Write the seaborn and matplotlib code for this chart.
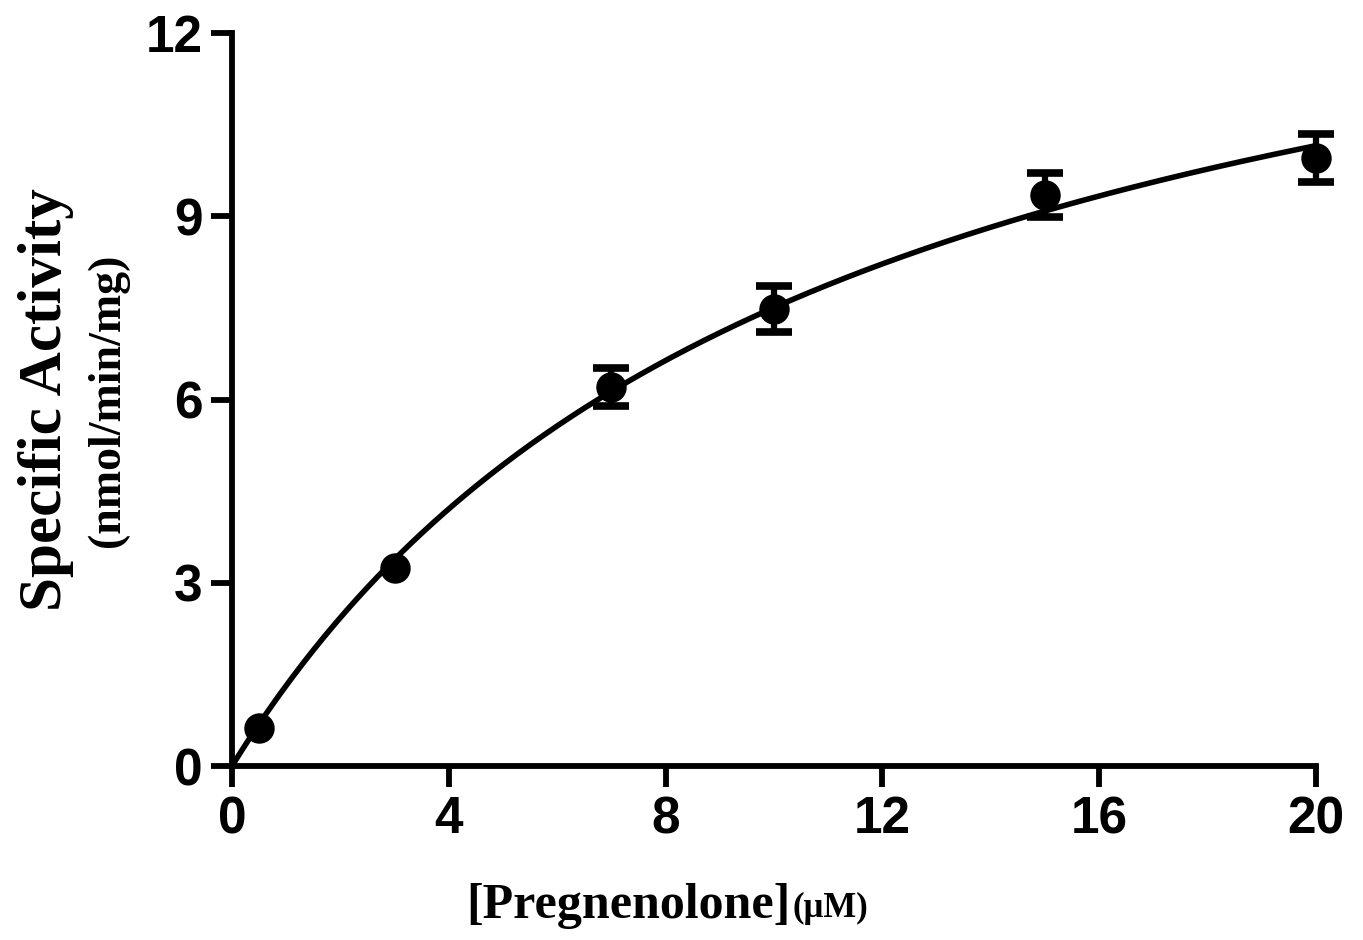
import numpy as np
import pandas as pd
import matplotlib
matplotlib.use("Agg")
import matplotlib.pyplot as plt
import seaborn as sns

# ---- data ----
conc = [0.5, 3, 7, 10, 15, 20]                 # [Pregnenolone] (uM)
activity = [0.62, 3.24, 6.20, 7.48, 9.35, 9.95]  # nmol/min/mg
sem = [0.0, 0.0, 0.31, 0.38, 0.36, 0.39]
xticks = [0, 4, 8, 12, 16, 20]
yticks = [0, 3, 6, 9, 12]

# ---- Michaelis-Menten fit (least squares from the data) ----
x_arr = np.array(conc, dtype=float)
y_arr = np.array(activity, dtype=float)
best = None
for km in np.linspace(1, 40, 3901):
    f = x_arr / (km + x_arr)
    vmax = (f @ y_arr) / (f @ f)
    sse = np.sum((y_arr - vmax * f) ** 2)
    if best is None or sse < best[0]:
        best = (sse, vmax, km)
_, VMAX, KM = best
xfit = np.linspace(0, 20, 400)
fit_df = pd.DataFrame({"x": xfit, "y": VMAX * xfit / (KM + xfit)})
pts_df = pd.DataFrame({"x": conc, "y": activity})
err_df = pd.DataFrame({"x": conc, "y": activity, "e": sem})
err_df = err_df[err_df["e"] > 0]

sns.set_theme(style="ticks")
plt.rcParams["font.family"] = ["Liberation Sans", "DejaVu Sans"]
for k in ["text.color", "axes.labelcolor", "xtick.color", "ytick.color", "axes.edgecolor"]:
    plt.rcParams[k] = "black"

fig = plt.figure(figsize=(13.63, 9.40), dpi=100)
ax = fig.add_axes([232 / 1363, 1 - 766 / 940, (1316 - 232) / 1363, (766 - 33) / 940])

sns.lineplot(data=fit_df, x="x", y="y", ax=ax, color="black", lw=4, zorder=2)
ax.errorbar(err_df["x"], err_df["y"], yerr=err_df["e"], fmt="none", ecolor="black",
            elinewidth=4.5, capsize=13, capthick=5.5, zorder=3, clip_on=False)
sc = sns.scatterplot(data=pts_df, x="x", y="y", ax=ax, color="black", s=480,
                     edgecolor="black", linewidth=0, zorder=4, clip_on=False)

ax.set_xlim(0, 20)
ax.set_ylim(0, 12)
ax.set_xticks(xticks)
ax.set_yticks(yticks)
ax.set_xlabel("")
ax.set_ylabel("")
for s in ["top", "right"]:
    ax.spines[s].set_visible(False)
for s in ["left", "bottom"]:
    ax.spines[s].set_linewidth(4.2)
    ax.spines[s].set_color("black")
ax.tick_params(axis="both", width=4.2, length=15, colors="black",
               labelsize=37, pad=6)
for lab in ax.get_xticklabels() + ax.get_yticklabels():
    lab.set_fontweight("bold")

serif = ["Liberation Serif", "DejaVu Serif"]
fig.text(790 / 1363, 1 - 906 / 940, "[Pregnenolone]", ha="right", va="center",
         fontsize=36, fontweight="bold", family=serif)
fig.text(792 / 1363, 1 - 908 / 940, "(\u03bcM)", ha="left", va="center",
         fontsize=25, fontweight="bold", family=serif)
fig.text(46 / 1363, 1 - 400 / 940, "Specific Activity", ha="center", va="center",
         rotation=90, fontsize=44, fontweight="bold", family=serif)
fig.text(108 / 1363, 1 - 400 / 940, "(nmol/min/mg)", ha="center", va="center",
         rotation=90, fontsize=33, fontweight="bold", family=serif)

fig.savefig("out.png", dpi=100, facecolor="white")
